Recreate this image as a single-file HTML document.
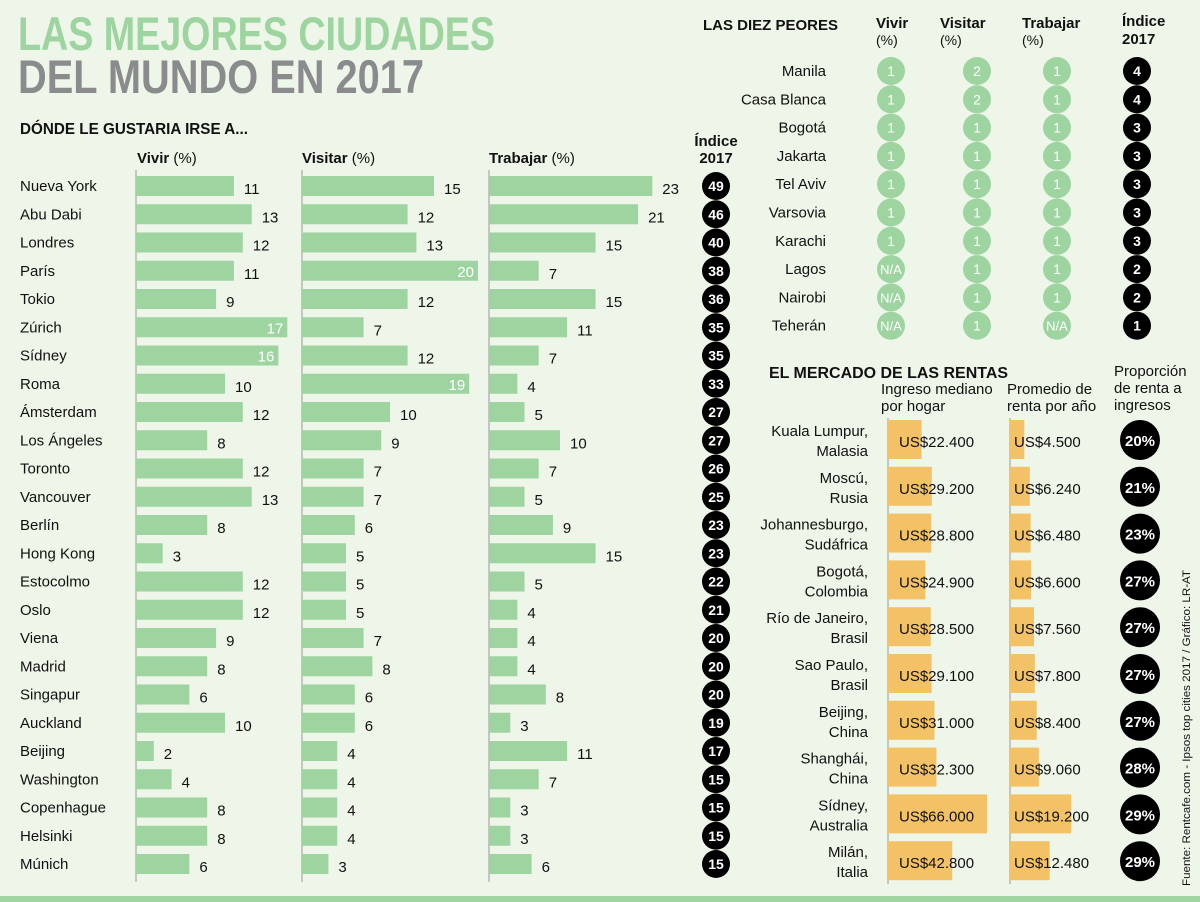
<!DOCTYPE html>
<html><head><meta charset="utf-8">
<style>
html,body{margin:0;padding:0;background:#eef5e9;}
svg{display:block;font-family:"Liberation Sans",sans-serif;}
</style></head>
<body>
<svg id="chart" width="1200" height="902" viewBox="0 0 1200 902" xmlns="http://www.w3.org/2000/svg">
<rect x="0" y="0" width="1200" height="902" fill="#eef5e9"/>
<text x="18" y="50" font-size="47" font-weight="bold" fill="#9dd49f" textLength="477" lengthAdjust="spacingAndGlyphs">LAS MEJORES CIUDADES</text>
<text x="18" y="93" font-size="47" font-weight="bold" fill="#8a8b8d" textLength="406" lengthAdjust="spacingAndGlyphs">DEL MUNDO EN 2017</text>
<text x="20" y="134" font-size="16" font-weight="bold" fill="#111" textLength="228" lengthAdjust="spacingAndGlyphs">DÓNDE LE GUSTARIA IRSE A...</text>
<text x="137" y="163" font-size="15" fill="#111"><tspan font-weight="bold">Vivir</tspan> (%)</text>
<text x="302" y="163" font-size="15" fill="#111"><tspan font-weight="bold">Visitar</tspan> (%)</text>
<text x="489" y="163" font-size="15" fill="#111"><tspan font-weight="bold">Trabajar</tspan> (%)</text>
<text x="716" y="146" font-size="15" font-weight="bold" fill="#111" text-anchor="middle">Índice</text>
<text x="716" y="163" font-size="15" font-weight="bold" fill="#111" text-anchor="middle">2017</text>

<text x="703" y="30" font-size="15" font-weight="bold" fill="#111">LAS DIEZ PEORES</text>
<text x="876" y="28" font-size="15" font-weight="bold" fill="#111">Vivir</text>
<text x="876" y="45" font-size="14" fill="#111">(%)</text>
<text x="940" y="28" font-size="15" font-weight="bold" fill="#111">Visitar</text>
<text x="940" y="45" font-size="14" fill="#111">(%)</text>
<text x="1022" y="28" font-size="15" font-weight="bold" fill="#111">Trabajar</text>
<text x="1022" y="45" font-size="14" fill="#111">(%)</text>
<text x="1122" y="26" font-size="15" font-weight="bold" fill="#111">Índice</text>
<text x="1122" y="44" font-size="15" font-weight="bold" fill="#111">2017</text>

<text x="769" y="378" font-size="16" font-weight="bold" fill="#111" textLength="239" lengthAdjust="spacingAndGlyphs">EL MERCADO DE LAS RENTAS</text>
<text x="881" y="394" font-size="15" fill="#111">Ingreso mediano</text>
<text x="881" y="411" font-size="15" fill="#111">por hogar</text>
<text x="1007" y="394" font-size="15" fill="#111">Promedio de</text>
<text x="1007" y="411" font-size="15" fill="#111">renta por año</text>
<text x="1114" y="376" font-size="15" fill="#111">Proporción</text>
<text x="1114" y="393" font-size="15" fill="#111">de renta a</text>
<text x="1114" y="410" font-size="15" fill="#111">ingresos</text>

<text transform="translate(1190,886) rotate(-90)" font-size="11" fill="#111" textLength="316" lengthAdjust="spacingAndGlyphs">Fuente: Rentcafe.com - Ipsos top cities 2017 / Gráfico: LR-AT</text>
<rect x="0" y="896" width="1200" height="6" fill="#9dd49f"/>
<g id="marks"></g>
</svg>
<script>
const cities = ["Nueva York","Abu Dabi","Londres","París","Tokio","Zúrich","Sídney","Roma","Ámsterdam","Los Ángeles","Toronto","Vancouver","Berlín","Hong Kong","Estocolmo","Oslo","Viena","Madrid","Singapur","Auckland","Beijing","Washington","Copenhague","Helsinki","Múnich"];
const vivir = [11,13,12,11,9,17,16,10,12,8,12,13,8,3,12,12,9,8,6,10,2,4,8,8,6];
const visitar = [15,12,13,20,12,7,12,19,10,9,7,7,6,5,5,5,7,8,6,6,4,4,4,4,3];
const trabajar = [23,21,15,7,15,11,7,4,5,10,7,5,9,15,5,4,4,4,8,3,11,7,3,3,6];
const indice = [49,46,40,38,36,35,35,33,27,27,26,25,23,23,22,21,20,20,20,19,17,15,15,15,15];

const worstCities = ["Manila","Casa Blanca","Bogotá","Jakarta","Tel Aviv","Varsovia","Karachi","Lagos","Nairobi","Teherán"];
const worstVivir = ["1","1","1","1","1","1","1","N/A","N/A","N/A"];
const worstVisitar = ["2","2","1","1","1","1","1","1","1","1"];
const worstTrabajar = ["1","1","1","1","1","1","1","1","1","N/A"];
const worstIndice = [4,4,3,3,3,3,3,2,2,1];

const rentCity = ["Kuala Lumpur,","Moscú,","Johannesburgo,","Bogotá,","Río de Janeiro,","Sao Paulo,","Beijing,","Shanghái,","Sídney,","Milán,"];
const rentCountry = ["Malasia","Rusia","Sudáfrica","Colombia","Brasil","Brasil","China","China","Australia","Italia"];
const income = [22400,29200,28800,24900,28500,29100,31000,32300,66000,42800];
const rent = [4500,6240,6480,6600,7560,7800,8400,9060,19200,12480];
const ratio = [20,21,23,27,27,27,27,28,29,29];

const NS="http://www.w3.org/2000/svg";
const g=document.getElementById('marks');
function mk(tag,attrs,txt){const e=document.createElementNS(NS,tag);for(const k in attrs)e.setAttribute(k,attrs[k]);if(txt!==undefined)e.textContent=txt;g.appendChild(e);return e;}
const GREEN="#9dd49f", ORANGE="#f4c266";
const rowY=i=>186+i*28.25;
const xViv=v=>v*8.9, xVis=v=>v*8.8, xTra=v=>v*7.1;
const fmt=n=>"US$"+String(n).replace(/\B(?=(\d{3})+(?!\d))/g,".");

// axis lines
[[136,170,882],[302,170,882],[489,170,882],[888,418,884],[1010,418,884]].forEach(a=>{
  const l=mk('line',{x1:a[0],x2:a[0],y1:a[1],y2:a[2],stroke:"#999","stroke-width":1});
  
  
});

const cols=[[136,vivir,xViv,16,'vivir'],[302,visitar,xVis,19,'visitar'],[489,trabajar,xTra,99,'trabajar']];
cities.forEach((c,i)=>{
  const y=rowY(i);
  const t=mk('text',{x:20,y:y+5,'font-size':15,fill:'#111'},c);
  
  
  cols.forEach(col=>{
    const v=col[1][i], w=col[2](v);
    const r=mk('rect',{x:col[0],y:y-10,width:w,height:20,fill:GREEN});
    
    
    let lb;
    if(v>=col[3]){lb=mk('text',{x:col[0]+w-4,y:y+6,'font-size':15,fill:'#fff','text-anchor':'end'},v);}
    else{lb=mk('text',{x:col[0]+w+10,y:y+8,'font-size':15,fill:'#111'},v);}
    
    
  });
  const ci=mk('circle',{cx:716,cy:y,r:14,fill:'#000'});
  
  
  const it=mk('text',{x:716,y:y+5,'font-size':14,'font-weight':'bold',fill:'#fff','text-anchor':'middle'},indice[i]);
  
  
});

const wcols=[[891,worstVivir,GREEN],[977,worstVisitar,GREEN],[1057,worstTrabajar,GREEN],[1137,worstIndice,'#000']];
worstCities.forEach((c,i)=>{
  const y=71+i*28.3;
  const t=mk('text',{x:826,y:y+5,'font-size':15,fill:'#111','text-anchor':'end'},c);
  
  
  wcols.forEach(col=>{
    const ci=mk('circle',{cx:col[0],cy:y,r:14,fill:col[2]});
    
    
    const v=String(col[1][i]);
    const tt=mk('text',{x:col[0],y:y+5,'font-size':v.length>1?13:14,'font-weight':col[2]==='#000'?'bold':'normal',fill:'#fff','text-anchor':'middle'},v);
    
    
  });
});

const xInc=v=>v*0.0015, xRent=v=>v*0.00318;
rentCity.forEach((c,i)=>{
  const y=441+i*46.8;
  const t1=mk('text',{x:868,y:y-5,'font-size':15,fill:'#111','text-anchor':'end'},c);
  
  
  const t2=mk('text',{x:868,y:y+15,'font-size':15,fill:'#111','text-anchor':'end'},rentCountry[i]);
  
  
  const b1=mk('rect',{x:888,y:y-21,width:xInc(income[i]),height:39,fill:ORANGE});
  
  
  const l1=mk('text',{x:899,y:y+6,'font-size':15,fill:'#111'},fmt(income[i]));
  
  
  const b2=mk('rect',{x:1010,y:y-21,width:xRent(rent[i]),height:39,fill:ORANGE});
  
  
  const l2=mk('text',{x:1014,y:y+6,'font-size':15,fill:'#111'},fmt(rent[i]));
  
  
  const ci=mk('circle',{cx:1140,cy:y-1,r:20,fill:'#000'});
  
  
  const rt=mk('text',{x:1140,y:y+5,'font-size':15,'font-weight':'bold',fill:'#fff','text-anchor':'middle'},ratio[i]+"%");
  
  
});
</script>
</body></html>
